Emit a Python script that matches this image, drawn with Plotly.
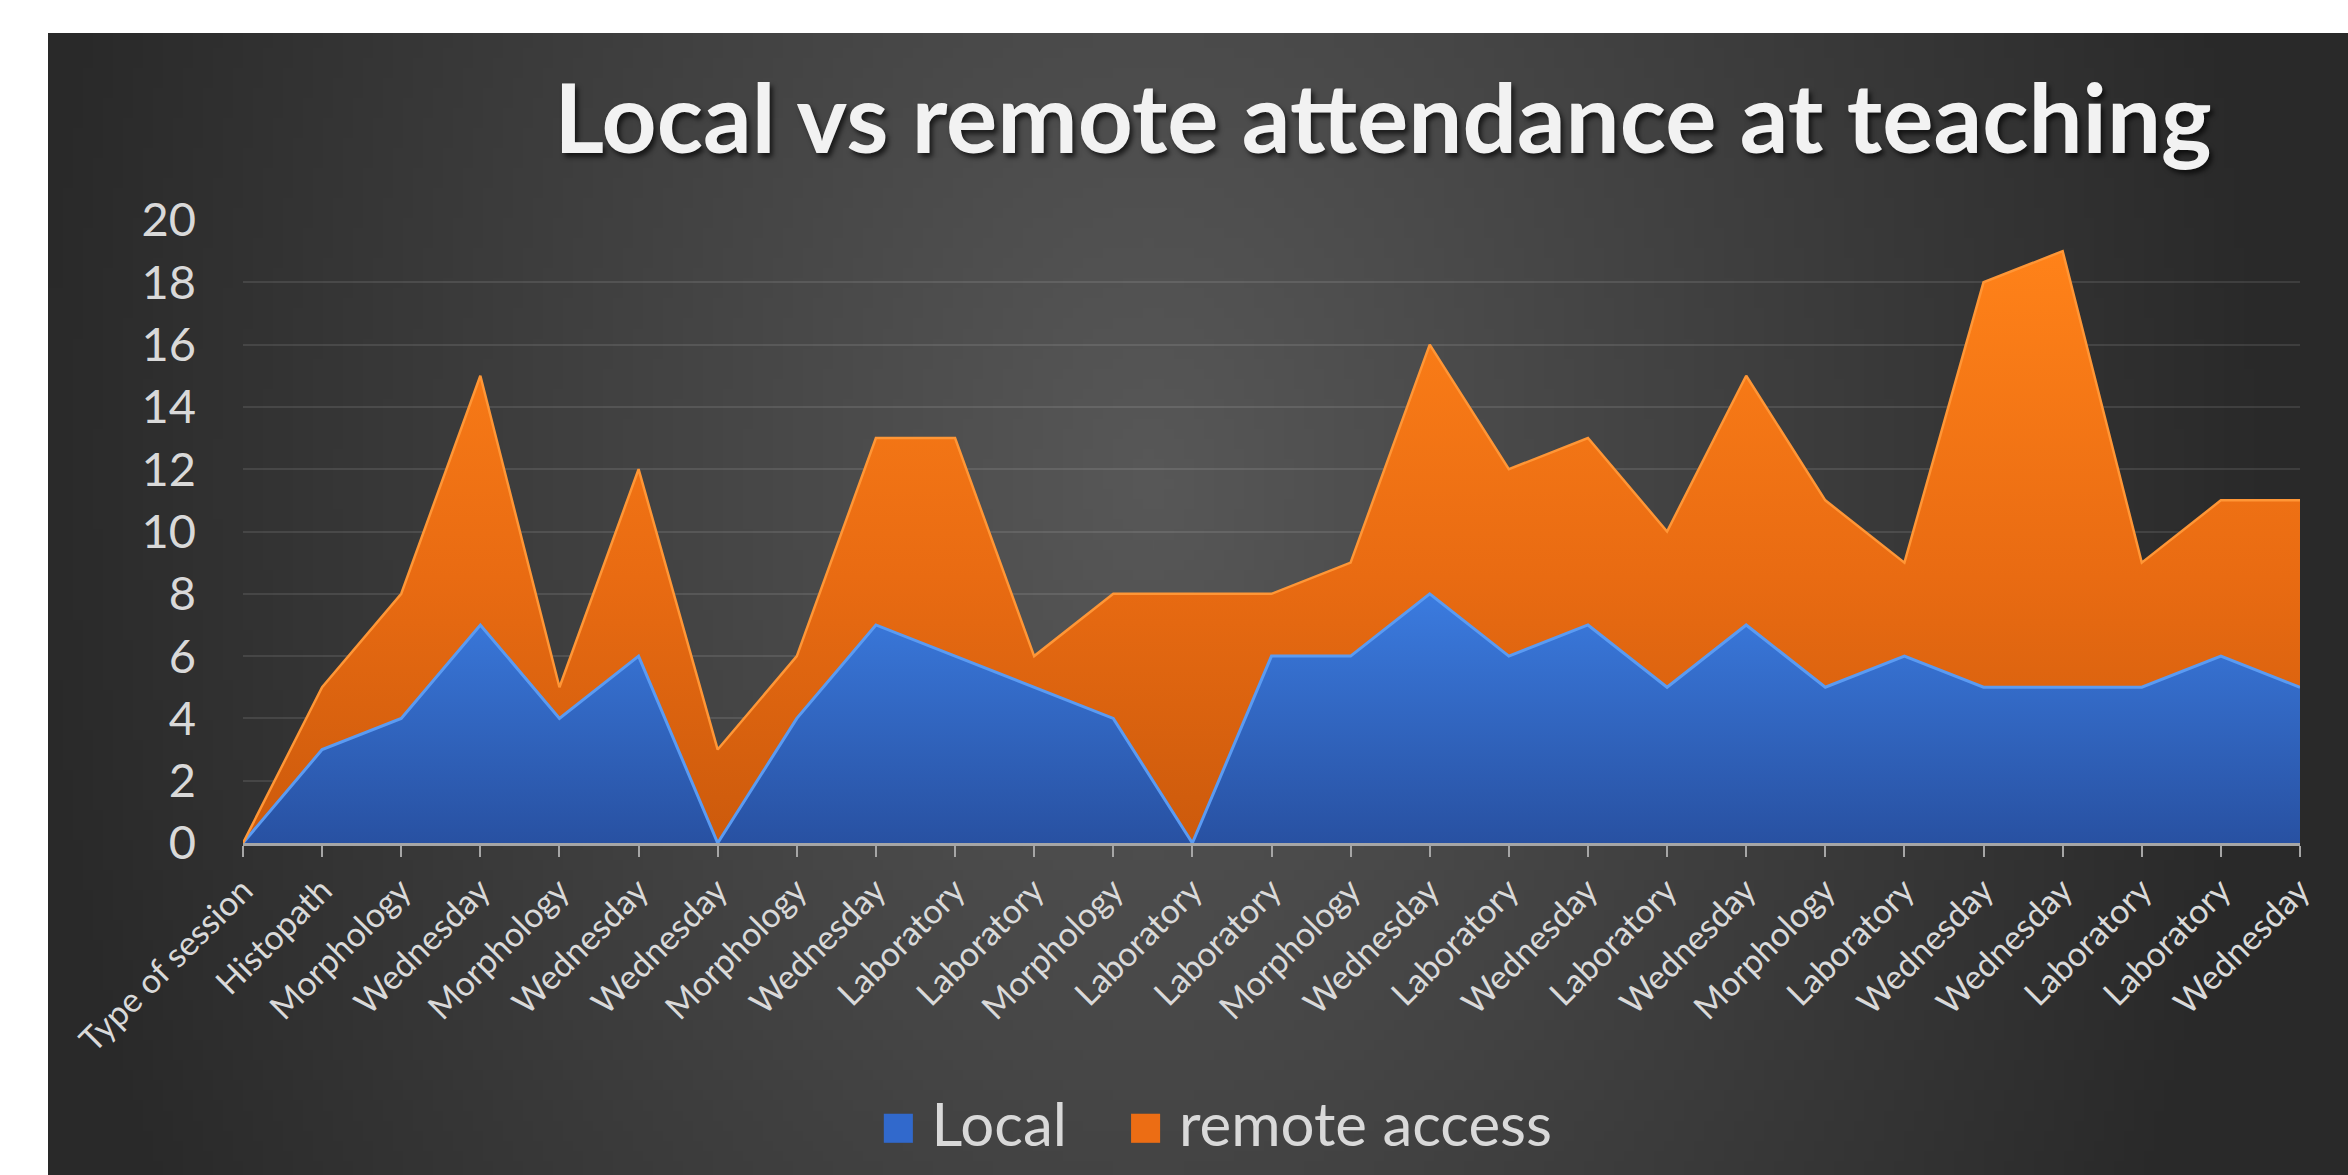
import base64
import struct
import zlib

import plotly.graph_objects as go

# session names along the x axis (first one is the column header from the sheet)
sessions = ["Type of session", "Histopath", "Morphology", "Wednesday", "Morphology",
            "Wednesday", "Wednesday", "Morphology", "Wednesday", "Laboratory",
            "Laboratory", "Morphology", "Laboratory", "Laboratory", "Morphology",
            "Wednesday", "Laboratory", "Wednesday", "Laboratory", "Wednesday",
            "Morphology", "Laboratory", "Wednesday", "Wednesday", "Laboratory",
            "Laboratory", "Wednesday"]

local = [0, 3, 4, 7, 4, 6, 0, 4, 7, 6, 5, 4, 0, 6, 6, 8, 6, 7, 5, 7, 5, 6, 5, 5, 5, 6, 5]
remote = [0, 2, 4, 8, 1, 6, 3, 2, 6, 7, 1, 4, 8, 2, 3, 8, 6, 6, 5, 8, 6, 3, 13, 14, 4, 5, 6]

y_ticks = list(range(0, 21, 2))

W, H = 2348, 1175
# plot area in pixels
PL, PR, PT, PB = 243, 2300, 220, 843
# dark panel in pixels
BX0, BY0 = 48, 33

BLUE, ORANGE = "#3169cc", "#ec6d14"


def png_uri(w, h, shade):
    """small PNG built by hand, returned as data uri"""
    rows = b""
    for j in range(h):
        row = bytearray([0])
        for i in range(w):
            row += bytes(shade(i, j))
        rows += bytes(row)

    def chunk(tag, data):
        c = tag + data
        return struct.pack(">I", len(data)) + c + struct.pack(">I", zlib.crc32(c) & 0xFFFFFFFF)

    raw = b"\x89PNG\r\n\x1a\n"
    raw += chunk(b"IHDR", struct.pack(">IIBBBBB", w, h, 8, 2, 0, 0, 0))
    raw += chunk(b"IDAT", zlib.compress(rows, 9))
    raw += chunk(b"IEND", b"")
    return "data:image/png;base64," + base64.b64encode(raw).decode()


gw, gh = 230, 114


def panel_shade(i, j):
    # radial-ish grey gradient, lighter in the middle
    px = BX0 + (W - BX0) * (i + 0.5) / gw
    py = BY0 + (H - BY0) * (j + 0.5) / gh
    d = (((px - 1150) / 1250) ** 2 + ((py - 480) / 1800) ** 2) ** 0.5
    v = int(max(41, min(88, 88 - 52 * d)))
    return (v, v, v)


bg = png_uri(gw, gh, panel_shade)

x_idx = list(range(len(sessions)))

fig = go.Figure()

fig.add_trace(go.Scatter(
    x=x_idx, y=local, name="Local", mode="lines", stackgroup="one",
    line=dict(color="#5b9bf2", width=3), showlegend=False,
    fillgradient=dict(type="vertical", start=0, stop=8,
                      colorscale=[[0, "#2851a2"], [1, "#3b7bdf"]]),
    hoverinfo="skip",
))
fig.add_trace(go.Scatter(
    x=x_idx, y=remote, name="remote access", mode="lines", stackgroup="one",
    line=dict(color="#ff9636", width=2.5), showlegend=False,
    fillgradient=dict(type="vertical", start=0, stop=19,
                      colorscale=[[0, "#cc5a0c"], [0.45, "#e96b12"], [1, "#ff8219"]]),
    hoverinfo="skip",
))

# legend entries: the colour key is drawn as a glyph so it scales with the text
for nm, col, pad in [("Local", BLUE, ""), ("remote access", ORANGE, "\u00a0")]:
    fig.add_trace(go.Scatter(
        x=[None], y=[None], mode="none",
        name=f"{pad}<span style='color:{col};font-size:60px'>■</span> {nm}",
    ))

fig.add_layout_image(dict(
    source=bg, xref="paper", yref="paper",
    x=(BX0 - PL) / (PR - PL), y=(PB - BY0) / (PB - PT),
    sizex=(W - BX0) / (PR - PL), sizey=(H - BY0) / (PB - PT),
    xanchor="left", yanchor="top", sizing="stretch", layer="below",
))

fig.update_layout(
    width=W, height=H, autosize=False,
    margin=dict(l=PL, r=W - PR, t=PT, b=H - PB, pad=0),
    paper_bgcolor="white", plot_bgcolor="rgba(0,0,0,0)",
    font=dict(family="Lato", color="#d9d9d9"),
    title=dict(
        text="Local vs remote attendance at teaching",
        x=1383 / W, xanchor="center", y=1 - 119 / H, yanchor="middle",
        font=dict(size=96, color="#f2f2f2", weight=700,
                  shadow="3px 4px 5px rgba(0,0,0,0.65)"),
    ),
    showlegend=True,
    legend=dict(
        orientation="h", xref="container", yref="container",
        x=1199 / W, xanchor="center", y=1 - 1123 / H, yanchor="middle",
        font=dict(size=60, color="#d9d9d9"), bgcolor="rgba(0,0,0,0)",
        traceorder="normal",
    ),
)

fig.update_xaxes(
    range=[0, len(sessions) - 1], tickmode="array", tickvals=x_idx, ticktext=sessions,
    tickangle=-45, tickfont=dict(size=34, color="#d9d9d9"),
    showgrid=False, zeroline=False, showline=True, linecolor="#a6a6a6", linewidth=3,
    ticks="outside", ticklen=11, tickwidth=2, tickcolor="#a6a6a6", automargin=False,
)
fig.update_yaxes(
    range=[0, 20], tickmode="array", tickvals=y_ticks,
    tickfont=dict(size=47, color="#d9d9d9"), ticklabelstandoff=46,
    showgrid=True, gridcolor="rgba(255,255,255,0.1)", gridwidth=2,
    zeroline=False, showline=False, ticks="", automargin=False,
)

# page body has a default 8px margin; drop it so the figure fills the window
fig.write_html("out.html", config={"displayModeBar": False},
               post_script="document.body.style.margin='0';")
